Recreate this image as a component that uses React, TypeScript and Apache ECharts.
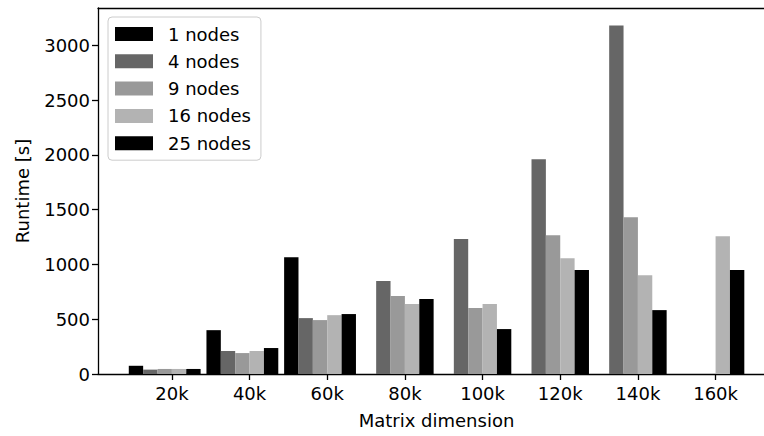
import React, { useEffect, useRef } from "react";
import * as echarts from "echarts";

const dimensions = [20, 40, 60, 80, 100, 120, 140, 160];
const seriesNames = ["1 nodes", "4 nodes", "9 nodes", "16 nodes", "25 nodes"];
const nodes1 = [75, 400, 1065, null, null, null, null, null];
const nodes4 = [40, 210, 510, 848, 1231, 1960, 3180, null];
const nodes9 = [46, 191, 492, 711, 602, 1267, 1431, null];
const nodes16 = [46, 210, 537, 638, 638, 1057, 902, 1258];
const nodes25 = [46, 237, 547, 684, 410, 948, 583, 948];
const seriesColors = ["#000000", "#666666", "#999999", "#b3b3b3", "#000000"];
const yTicks = [0, 500, 1000, 1500, 2000, 2500, 3000];

const FONT = "DejaVu Sans";
const BAR_W = 3.7; // bar width in data units (k)
const GROUP_SHIFT = -BAR_W / 2;

export default function App() {
  const ref = useRef<HTMLDivElement>(null);
  useEffect(() => {
    if (!ref.current) return;
    const chart = echarts.init(ref.current, undefined, { renderer: "svg" });
    const all = [nodes1, nodes4, nodes9, nodes16, nodes25];
    const xMin = 0.975;
    const xMax = 175.3;
    const axisColor = "#000";
    chart.setOption({
      animation: false,
      textStyle: { fontFamily: FONT },
      grid: { left: 98, right: 0, top: 8, bottom: 62, containLabel: false },
      legend: {
        orient: "vertical",
        left: 108,
        top: 17,
        padding: [8, 10, 8, 7],
        itemWidth: 38,
        itemHeight: 14,
        itemGap: 9.3,
        icon: "rect",
        borderColor: "#cccccc",
        borderWidth: 1,
        borderRadius: 4,
        backgroundColor: "rgba(255,255,255,0.8)",
        textStyle: { fontFamily: FONT, fontSize: 18, color: "#000", lineHeight: 18, padding: [0, 0, 0, 10] },
        data: seriesNames,
      },
      xAxis: [
        {
          type: "value",
          min: xMin,
          max: xMax,
          name: "Matrix dimension",
          nameLocation: "middle",
          nameGap: 37,
          nameTextStyle: { fontFamily: FONT, fontSize: 18, color: "#000" },
          splitLine: { show: false },
          axisLine: { show: true, onZero: false, lineStyle: { color: axisColor, width: 1.3 } },
          axisTick: { show: true, length: 6, customValues: dimensions, lineStyle: { color: axisColor, width: 1.3 } },
          axisLabel: {
            customValues: dimensions,
            formatter: (v: number) => `${v}k`,
            fontFamily: FONT,
            fontSize: 18,
            color: "#000",
            margin: 10,
          },
        },
        {
          type: "value",
          position: "top",
          min: xMin,
          max: xMax,
          splitLine: { show: false },
          axisLine: { show: true, onZero: false, lineStyle: { color: axisColor, width: 1.3 } },
          axisTick: { show: false },
          axisLabel: { show: false },
        },
      ],
      yAxis: {
        type: "value",
        min: 0,
        max: 3340,
        name: "Runtime [s]",
        nameLocation: "middle",
        nameGap: 67,
        nameTextStyle: { fontFamily: FONT, fontSize: 18, color: "#000" },
        splitLine: { show: false },
        axisLine: { show: true, onZero: false, lineStyle: { color: axisColor, width: 1.3 } },
        axisTick: { show: true, length: 6, customValues: yTicks, lineStyle: { color: axisColor, width: 1.3 } },
        axisLabel: {
          customValues: yTicks,
          formatter: (v: number) => String(v),
          fontFamily: FONT,
          fontSize: 18,
          color: "#000",
          margin: 8,
        },
      },
      series: seriesNames.map((name, i) => ({
        name,
        type: "bar",
        xAxisIndex: 0,
        barWidth: BAR_W * 3.883,
        barGap: "0%",
        itemStyle: { color: seriesColors[i] },
        data: dimensions
          .map((d, j) => [d + GROUP_SHIFT, all[i][j]])
          .filter((p) => p[1] !== null),
      })),
    });
    return () => chart.dispose();
  }, []);
  return (
    <div style={{ position: "fixed", left: 0, top: 0, width: 764, height: 436, overflow: "hidden", background: "#fff" }}>
      <div ref={ref} style={{ width: 775, height: 436 }} />
    </div>
  );
}
